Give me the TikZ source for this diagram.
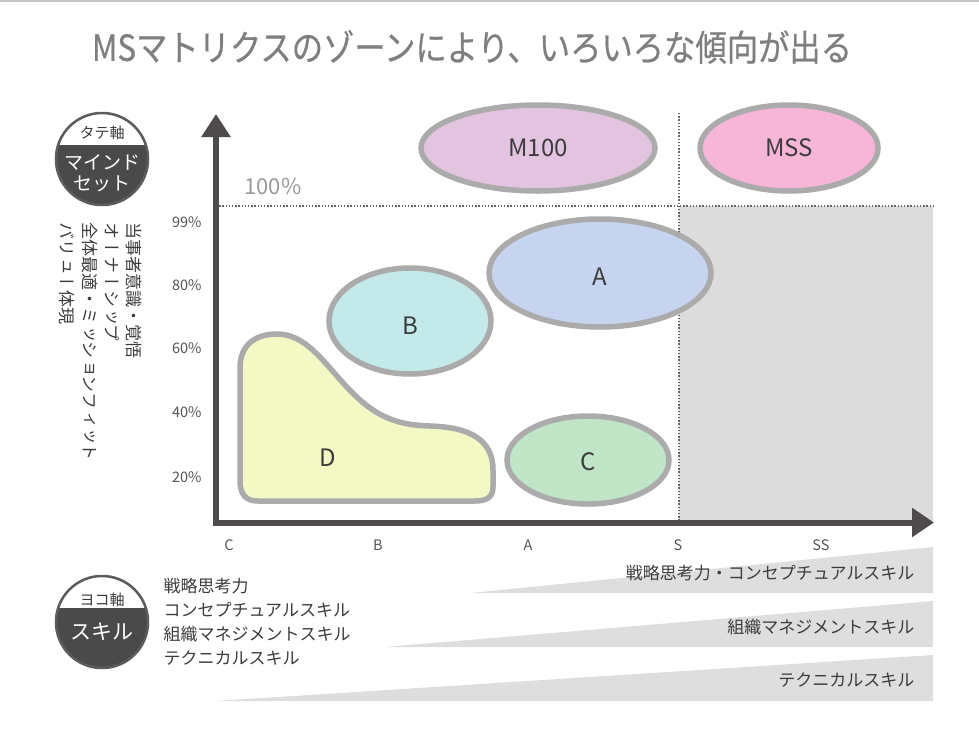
\documentclass[tikz,border=0pt]{standalone}
\usepackage{fontspec}
\usepackage{graphicx}
\setmainfont{Noto Sans CJK JP}
\newfontfamily\tatefont[Vertical=RotatedGlyphs]{Noto Sans CJK JP}
\newfontfamily\titlefont[FakeBold=0.6]{Noto Sans CJK JP}
\usetikzlibrary{arrows.meta,shapes.geometric}
\definecolor{axisc}{HTML}{4F4B4C}
\definecolor{zoneline}{HTML}{ABABAB}
\definecolor{labc}{HTML}{3C3C3C}
\definecolor{tickc}{HTML}{555555}
\definecolor{titlec}{HTML}{7F7F7F}
\definecolor{shadec}{HTML}{DCDCDC}
\definecolor{wedgec}{HTML}{DEDEDE}
\definecolor{dotc}{HTML}{666666}
\definecolor{badgedark}{HTML}{4A4A4A}
\definecolor{badgering}{HTML}{5C5C5C}
\definecolor{fM}{HTML}{E3C4E0}
\definecolor{fMSS}{HTML}{F7B5D8}
\definecolor{fA}{HTML}{C7D4EF}
\definecolor{fB}{HTML}{C3E9EA}
\definecolor{fC}{HTML}{C1E6C7}
\definecolor{fD}{HTML}{F4F8C4}
\begin{document}
\begin{tikzpicture}[x=1pt,y=-1pt,
  zone/.style={ellipse, draw=zoneline, line width=5.5pt, inner sep=0pt},
  zonelab/.style={font=\fontsize{24}{24}\selectfont, text=labc},
  tick/.style={font=\fontsize{14.5}{14.5}\selectfont, text=tickc},
  axisline/.style={draw=axisc, line width=6pt, {Triangle[length=23pt,width=28pt]}-{Triangle[length=22pt,width=28pt]}},
  dotline/.style={draw=dotc, line width=1.3pt, dash pattern=on 1.3pt off 1.9pt},
  listtext/.style={font=\fontsize{17}{17}\selectfont, text=labc},
  tatetext/.style={font=\tatefont\fontsize{17}{17}\selectfont, text=labc, rotate=-90, anchor=west, inner sep=0pt},
  badgetop/.style={font=\fontsize{15}{15}\selectfont, text=labc},
  badgemain/.style={font=\fontsize{19}{19}\selectfont, text=white}
]
\useasboundingbox (0,0) rectangle (979,736);
% top rule
\draw[draw=zoneline!70, line width=1.5pt] (0,1) -- (979,1);
% title
\node[font=\titlefont\fontsize{36}{36}\selectfont, text=titlec] (title) at (472,47)
  {\scalebox{0.87}[1]{MSマトリクスのゾーンにより、いろいろな傾向が出る}};

% shaded area
\fill[shadec] (679,206) rectangle (933,521);
% dotted guides
\coordinate (hd1) at (216,206);
\coordinate (hd2) at (933,206);
\coordinate (vd1) at (679,113);
\coordinate (vd2) at (679,521);
\draw[dotline] (hd1) -- (hd2);
\draw[dotline] (vd1) -- (vd2);
\node[font=\fontsize{22}{22}\selectfont, text=black!40] (hundred) at (273,186) {100\%};

% zones
\node[zone, fill=fM, minimum width=234pt, minimum height=86pt] (m100) at (538,148) {};
\node[zonelab] at (m100.center) {M100};
\node[zone, fill=fMSS, minimum width=178pt, minimum height=86pt] (mss) at (789,148) {};
\node[zonelab] at (mss.center) {MSS};
\node[zone, fill=fA, minimum width=222pt, minimum height=108pt] (za) at (600,273) {};
\node[zonelab] at (600,277) {A};
\node[zone, fill=fB, minimum width=162pt, minimum height=106pt] (zb) at (410,321) {};
\node[zonelab] at (410,326) {B};
\node[zone, fill=fC, minimum width=162pt, minimum height=88pt] (zc) at (588,460) {};
\node[zonelab] at (588,462) {C};
\draw[draw=zoneline, line width=5.5pt, fill=fD]
  (240,480) -- (240,368) .. controls (240,345) and (255,334) .. (277,334)
  .. controls (305,334) and (322,360) .. (345,385)
  .. controls (370,412) and (390,425) .. (430,426)
  .. controls (470,427) and (493,440) .. (493,470)
  -- (493,487) .. controls (493,497) and (487,501) .. (475,501)
  -- (258,501) .. controls (246,501) and (240,495) .. (240,480) -- cycle;
\node[zonelab] (zd) at (328,458) {D};

% axes
\coordinate (ytop) at (216,114);
\coordinate (orig) at (216,522.5);
\coordinate (xend) at (934,522.5);
\draw[axisline, line join=miter] (ytop) -- (orig) -- (xend);

% y ticks
\node[tick, anchor=east] (p99) at (205,222) {99\%};
\node[tick, anchor=east] (p80) at (205,285) {80\%};
\node[tick, anchor=east] (p60) at (205,348) {60\%};
\node[tick, anchor=east] (p40) at (205,412) {40\%};
\node[tick, anchor=east] (p20) at (205,477) {20\%};
% x ticks
\node[tick] (xc) at (229,545) {C};
\node[tick] (xb) at (378,545) {B};
\node[tick] (xa) at (528,545) {A};
\node[tick] (xs) at (678,545) {S};
\node[tick] (xss) at (821,545) {SS};

% top badge
\coordinate (bt) at (102,159);
\fill[badgedark] (bt) circle (47);
\begin{scope}
  \clip (bt) circle (47);
  \fill[white] (50,100) rectangle (155,145);
\end{scope}
\draw[badgering, line width=2.5pt] (bt) circle (46);
\node[badgetop] (tate) at (102,133) {タテ軸};
\node[badgemain] (mind) at (102,162) {マインド};
\node[badgemain] (set) at (102,184) {セット};

% vertical texts
\node[tatetext] (v1) at (134,222) {当事者意識・覚悟};
\node[tatetext] (v2) at (112,222) {オーナーシップ};
\node[tatetext] (v3) at (90,222) {全体最適・ミッションフィット};
\node[tatetext] (v4) at (67,222) {バリュー体現};

% bottom badge
\coordinate (bb) at (102,622);
\fill[badgedark] (bb) circle (47);
\begin{scope}
  \clip (bb) circle (47);
  \fill[white] (50,565) rectangle (155,608);
\end{scope}
\draw[badgering, line width=2.5pt] (bb) circle (46);
\node[badgetop] (yoko) at (102,600) {ヨコ軸};
\node[badgemain, font=\fontsize{21}{21}\selectfont] (skill) at (102,632) {スキル};

% skill list
\node[listtext, anchor=west] (l1) at (160,586) {戦略思考力};
\node[listtext, anchor=west] (l2) at (160,610) {コンセプチュアルスキル};
\node[listtext, anchor=west] (l3) at (160,634) {組織マネジメントスキル};
\node[listtext, anchor=west] (l4) at (160,658) {テクニカルスキル};

% wedges
\fill[wedgec] (470,593) -- (933,547) -- (933,593) -- cycle;
\fill[wedgec] (385,647) -- (933,601) -- (933,647) -- cycle;
\fill[wedgec] (215,701) -- (933,655) -- (933,701) -- cycle;
\node[listtext, anchor=east] (w1) at (918,573) {戦略思考力・コンセプチュアルスキル};
\node[listtext, anchor=east] (w2) at (918,627) {組織マネジメントスキル};
\node[listtext, anchor=east] (w3) at (918,680) {テクニカルスキル};
\end{tikzpicture}
\end{document}
